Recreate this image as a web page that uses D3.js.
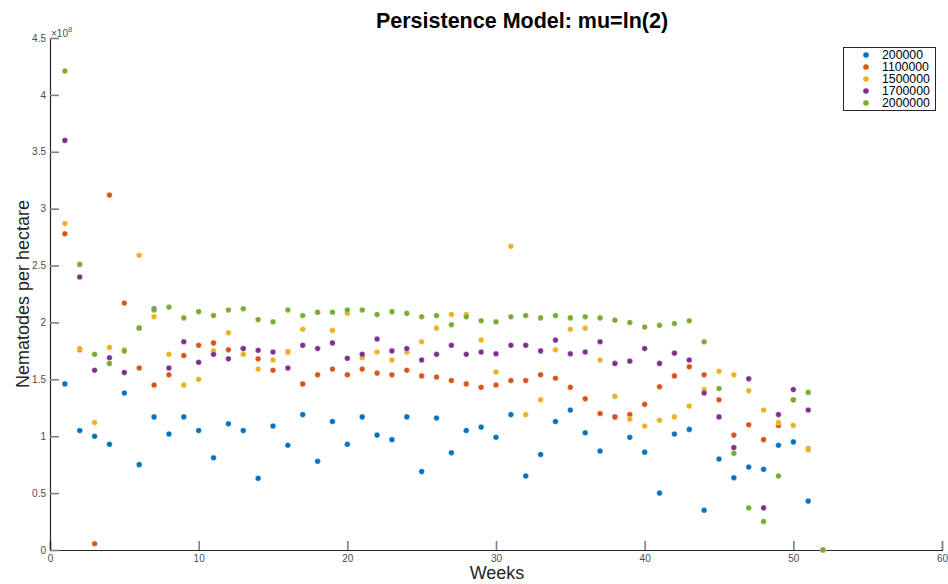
<!DOCTYPE html>
<html><head><meta charset="utf-8">
<script src="https://cdn.jsdelivr.net/npm/d3@7"></script>
<style>
body{margin:0;background:#fff;}
svg{display:block;font-family:"Liberation Sans",Arial,Helvetica,sans-serif;}
</style></head>
<body><svg id="c" width="948" height="584"></svg>
<script>
const weeks = [1,2,3,4,5,6,7,8,9,10,11,12,13,14,15,16,17,18,19,20,21,22,23,24,25,26,27,28,29,30,31,32,33,34,35,36,37,38,39,40,41,42,43,44,45,46,47,48,49,50,51,52];
const seriesNames = ["200000","1100000","1500000","1700000","2000000"];
const seriesColors = ["#0072BD","#D95319","#EDB120","#7E2F8E","#77AC30"];
// values in units of 1e8 nematodes per hectare
const s200000 = [1.46,1.05,1.00,0.93,1.38,0.75,1.17,1.02,1.17,1.05,0.81,1.11,1.05,0.63,1.09,0.92,1.19,0.78,1.13,0.93,1.17,1.01,0.97,1.17,0.69,1.16,0.855,1.05,1.08,0.99,1.19,0.65,0.84,1.13,1.23,1.03,0.87,1.17,0.99,0.86,0.50,1.02,1.06,0.35,0.80,0.635,0.73,0.71,0.92,0.95,0.43,0];
const s1100000 = [2.78,1.76,0.055,3.12,2.17,1.60,1.45,1.54,1.71,1.80,1.82,1.76,1.77,1.68,1.58,1.74,1.46,1.54,1.59,1.54,1.59,1.555,1.54,1.58,1.53,1.52,1.49,1.46,1.43,1.45,1.49,1.49,1.54,1.51,1.43,1.33,1.20,1.17,1.19,1.28,1.435,1.53,1.61,1.54,1.32,1.01,1.10,0.97,1.095,1.32,0.89,0];
const s1500000 = [2.87,1.77,1.12,1.78,1.76,2.59,2.05,1.72,1.45,1.50,1.75,1.91,1.72,1.59,1.67,1.745,1.94,2.09,1.93,2.08,1.69,1.74,1.67,1.74,1.83,1.95,2.07,2.07,1.845,1.565,2.67,1.19,1.32,1.76,1.94,1.95,1.67,1.35,1.15,1.09,1.14,1.17,1.265,1.41,1.57,1.54,1.40,1.23,1.12,1.095,0.88,0];
const s1700000 = [3.60,2.40,1.58,1.69,1.56,1.95,2.12,1.60,1.83,1.65,1.72,1.68,1.77,1.755,1.74,1.60,1.80,1.77,1.82,1.685,1.72,1.855,1.75,1.77,1.67,1.72,1.80,1.72,1.74,1.725,1.80,1.80,1.75,1.845,1.725,1.74,1.83,1.64,1.66,1.77,1.64,1.73,1.67,1.38,1.17,0.90,1.505,0.37,1.19,1.41,1.23,0];
const s2000000 = [4.21,2.51,1.72,1.64,1.75,1.95,2.11,2.135,2.04,2.095,2.06,2.11,2.12,2.025,2.005,2.11,2.06,2.09,2.09,2.11,2.11,2.07,2.095,2.08,2.05,2.06,1.98,2.05,2.015,2.005,2.05,2.06,2.04,2.06,2.04,2.05,2.04,2.02,2.00,1.96,1.975,1.99,2.015,1.83,1.42,0.85,0.37,0.25,0.65,1.32,1.385,0];
const seriesValues = [s200000,s1100000,s1500000,s1700000,s2000000];
const xTicks = [0,10,20,30,40,50,60];
const yTicks = [0,0.5,1,1.5,2,2.5,3,3.5,4,4.5];
const yTickLabels = ["0","0.5","1","1.5","2","2.5","3","3.5","4","4.5"];
const titleText = "Persistence Model: mu=ln(2)";
const xLabel = "Weeks";
const yLabel = "Nematodes per hectare";

const svg = d3.select("#c");
const x = d3.scaleLinear().domain([0,60]).range([50,942]);
const y = d3.scaleLinear().domain([0,4.5]).range([550,38]);

// axes
const xAxis = d3.axisBottom(x).tickValues(xTicks).tickSize(-9).tickPadding(4).tickFormat(d3.format("d"));
const yAxis = d3.axisLeft(y).tickValues(yTicks).tickSize(-9).tickPadding(4).tickFormat((d,i)=>yTickLabels[i]);
const gx = svg.append("g").attr("transform","translate(0,550)").call(xAxis);
const gy = svg.append("g").attr("transform","translate(50,0)").call(yAxis);
[gx,gy].forEach(g=>{
  g.select(".domain").attr("stroke","#262626").attr("stroke-width",1.2);
  g.selectAll(".tick line").attr("stroke","#808080").attr("stroke-width",1.6);
  g.selectAll(".tick text").attr("fill","#4d4d4d").style("font-size","10px");
});
gx.selectAll(".tick text").attr("dy","0.75em");

// exponent label
const ex = svg.append("text").attr("x",51).attr("y",37).attr("fill","#4d4d4d").style("font-size","10px");
ex.append("tspan").text("\u00d710");
ex.append("tspan").attr("dy",-5).style("font-size","7.5px").text("8");

// points
seriesValues.forEach((vals,si)=>{
  svg.append("g").selectAll("circle").data(vals).join("circle")
    .attr("cx",(d,i)=>x(weeks[i])).attr("cy",d=>y(d)).attr("r",2.8)
    .attr("fill",seriesColors[si]).attr("stroke","#fff").attr("stroke-width",0.3);
});

// title & labels
svg.append("text").attr("x",522).attr("y",28).attr("text-anchor","middle")
  .style("font-size","21.5px").style("font-weight","bold").attr("fill","#000").text(titleText);
svg.append("text").attr("x",497).attr("y",579).attr("text-anchor","middle")
  .style("font-size","18px").attr("fill","#262626").text(xLabel);
svg.append("text").attr("transform","translate(29,294) rotate(-90)").attr("text-anchor","middle")
  .style("font-size","18px").attr("fill","#262626").text(yLabel);

// legend
const lg = svg.append("g");
lg.append("rect").attr("x",843.5).attr("y",47.5).attr("width",92).attr("height",63)
  .attr("fill","#fff").attr("stroke","#262626").attr("stroke-width",1);
seriesNames.forEach((n,i)=>{
  const yy = 55 + i*12;
  lg.append("circle").attr("cx",866).attr("cy",yy).attr("r",2.8).attr("fill",seriesColors[i]);
  lg.append("text").attr("x",882).attr("y",yy+4.3).style("font-size","12.3px").attr("fill","#000").text(n);
});
</script></body></html>
